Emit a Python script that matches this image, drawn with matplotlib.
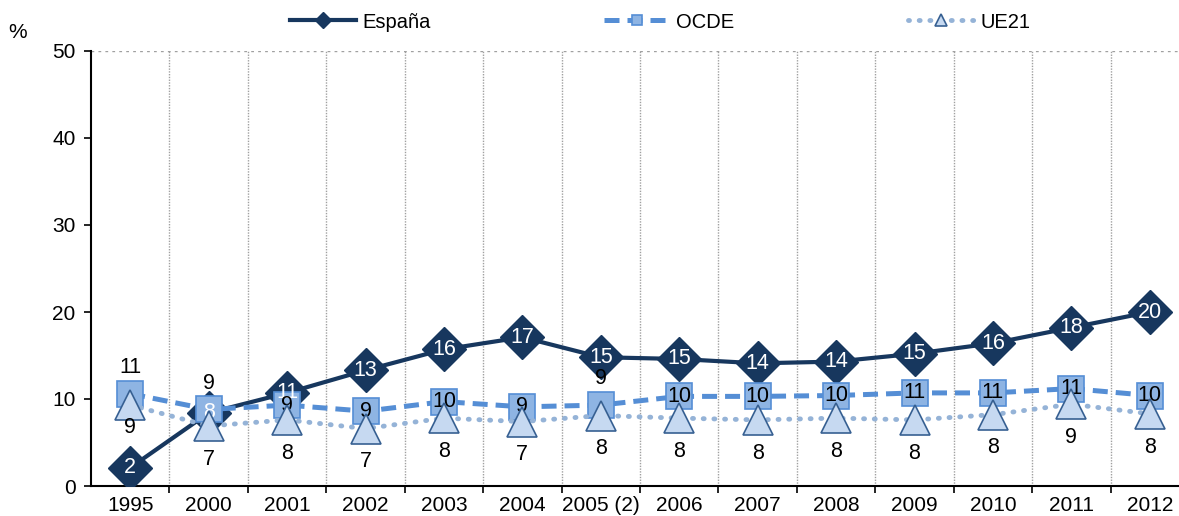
import numpy as np
import matplotlib.pyplot as plt

plt.rcParams['font.family'] = ['Liberation Sans', 'DejaVu Sans']

years = ['1995', '2000', '2001', '2002', '2003', '2004', '2005 (2)',
         '2006', '2007', '2008', '2009', '2010', '2011', '2012']
espana = [2.1, 8.4, 10.7, 13.3, 15.7, 17.1, 14.8, 14.6, 14.1, 14.3, 15.2, 16.4, 18.2, 20.0]
ocde = [10.6, 8.8, 9.3, 8.6, 9.7, 9.1, 9.3, 10.3, 10.3, 10.4, 10.7, 10.7, 11.2, 10.4]
ue21 = [9.3, 6.9, 7.6, 6.6, 7.8, 7.4, 8.1, 7.8, 7.6, 7.8, 7.6, 8.2, 9.4, 8.3]

# OCDE labels that sit above the square instead of inside it
ocde_above = {0, 1, 6}

W, H = 1179, 516
fig = plt.figure(figsize=(W / 100, H / 100), dpi=100)
ax = fig.add_axes([91 / W, 1 - 486 / H, 1098 / W, 435 / H])

x = np.arange(len(years))

ax.plot(x, espana, color='#17375E', lw=3, marker='D', ms=22,
        mfc='#17375E', mec='#17375E', zorder=3, label='España')
ax.plot(x, ocde, color='#558ED5', lw=3.6, ls=(0, (3, 1.6)), marker='s', ms=19,
        mfc='#8EB4E3', mec='#558ED5', mew=1.2, zorder=4, label='OCDE')
ax.plot(x, ue21, color='#95B3D7', lw=3.5, ls=(0, (0.2, 2.0)), dash_capstyle='round',
        marker='^', ms=21, mfc='#C6D9F1', mec='#376092', mew=1.2, zorder=5, label='UE21')

fs = 15.5
for i, v in enumerate(espana):
    ax.text(i, v, '{:.0f}'.format(v), color='white', fontsize=fs,
            ha='center', va='center', zorder=4.6)
for i, v in enumerate(ocde):
    if i in ocde_above:
        ax.annotate('{:.0f}'.format(v), (i, v), xytext=(0, 19), textcoords='offset points',
                    ha='center', va='center', fontsize=fs, color='black', zorder=6)
    else:
        ax.text(i, v, '{:.0f}'.format(v), ha='center', va='center',
                fontsize=fs, color='black', zorder=4.7)
for i, v in enumerate(ue21):
    dy = -16 if i == 0 else -24
    ax.annotate('{:.0f}'.format(v), (i, v), xytext=(0, dy), textcoords='offset points',
                ha='center', va='center', fontsize=fs, color='black', zorder=6)

ax.set_xlim(-0.5, len(years) - 0.5)
ax.set_ylim(0, 50)
ax.set_yticks(range(0, 51, 10))
ax.set_xticks(x)
ax.set_xticklabels(years)
ax.set_xticks(x[:-1] + 0.5, minor=True)
ax.tick_params(axis='x', which='major', length=0, pad=7, labelsize=15)
ax.tick_params(axis='x', which='minor', length=5, width=1.2, direction='out')
ax.tick_params(axis='y', length=5, width=1.2, direction='out', labelsize=15, pad=6)

for b in x[:-1] + 0.5:
    ax.axvline(b, color='#A0A0A0', lw=1, ls=(0, (1, 1)), zorder=1)
ax.axhline(50, color='#A0A0A0', lw=1, ls=(0, (2, 3)), zorder=1)

for s in ['top', 'right']:
    ax.spines[s].set_visible(False)
for s in ['left', 'bottom']:
    ax.spines[s].set_linewidth(1.5)

fig.text(18 / W, 1 - 33 / H, '%', fontsize=15, ha='center', va='center')

fig.legend(loc='center', bbox_to_anchor=(660 / W, 1 - 22 / H), ncol=3, frameon=False,
           fontsize=14.5, handlelength=3.3, columnspacing=8.6, markerscale=0.38,
           handletextpad=0.3)

fig.savefig('out.png', dpi=100)
